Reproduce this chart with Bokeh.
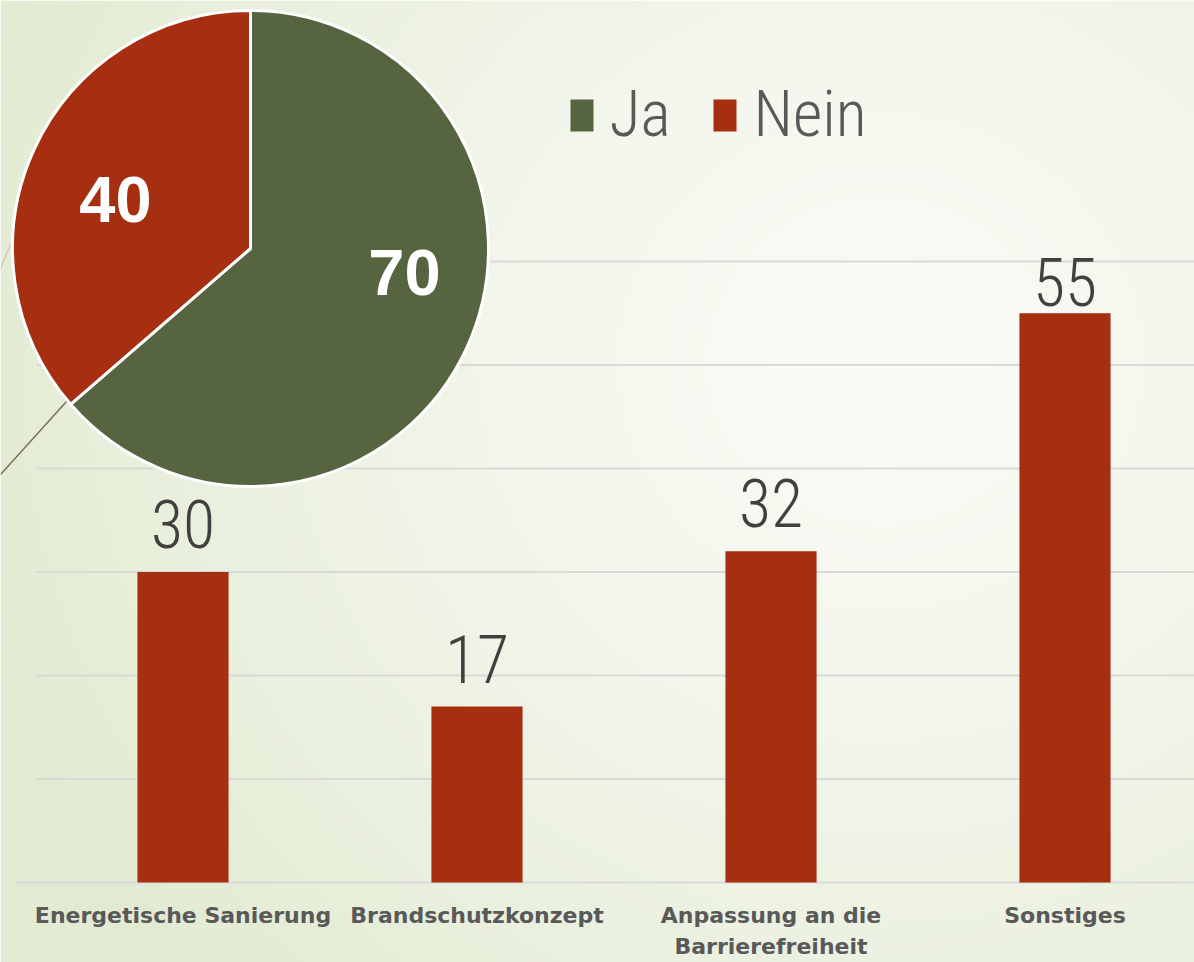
import numpy as np
from bokeh.plotting import figure
from bokeh.models import Range1d
from bokeh.core.properties import value
from bokeh.embed import file_html
from bokeh.resources import INLINE

# ---------------- data ----------------
categories = ["Energetische Sanierung", "Brandschutzkonzept",
              "Anpassung an die\nBarrierefreiheit", "Sonstiges"]
values = [30, 17, 32, 55]
pie_labels = ["Ja", "Nein"]
pie_values = [70, 40]
grid_values = [0, 10, 20, 30, 40, 50, 60]

# ---------------- layout constants (pixels of the reference picture) ----------------
W, H = 1194, 962
OFF = 0
IMG_H = 962
ZERO_Y = 882.0          # picture y of value 0
PX_PER_UNIT = 10.35     # pixels per value unit
X0, STEP = 182.5, 294.0 # centre of first category, category spacing
LABEL_OFFSETS = [-48, -48, -48, -31.5]  # screen offsets of the value labels

BAR_RED = "#a52f10"
JA_GREEN = "#566540"
THIN_FONT = value("Roboto Condensed Light, Roboto Condensed, DejaVu Sans Condensed, Roboto, sans-serif")


def vy(Y):
    return (ZERO_Y - Y) / PX_PER_UNIT


def U(Y):
    # picture y (downwards) -> upward pixel coordinate
    return IMG_H - Y


x_range = Range1d((OFF - X0) / STEP, (OFF + W - X0) / STEP)
y_range = Range1d(vy(OFF + H), vy(OFF))

p = figure(width=W, height=H, x_range=x_range, y_range=y_range,
           output_backend="svg", toolbar_location=None, min_border=0,
           x_axis_location=None, y_axis_location=None,
           outline_line_color=None)
p.xgrid.visible = False
p.ygrid.visible = False
p.extra_x_ranges = {"px": Range1d(OFF, OFF + W)}
p.extra_y_ranges = {"py": Range1d(IMG_H - OFF - H, IMG_H - OFF)}

# ---------------- background gradient ----------------
s = 3
nx, ny = int(np.ceil(W / s)), int(np.ceil(H / s))
xs = OFF + (np.arange(nx) + 0.5) * s
ys_up = (IMG_H - OFF - H) + (np.arange(ny) + 0.5) * s
Xg, Yg = np.meshgrid(xs, IMG_H - ys_up)
t = np.sqrt(((Xg - 880) / 950.0) ** 2 + ((Yg - 360) / 900.0) ** 2)
t = np.clip(t, 0, 1) ** 1.3
c0 = np.array([250, 251, 246])
c1 = np.array([226, 235, 210])
img = np.zeros((ny, nx), dtype=np.uint32)
view = img.view(dtype=np.uint8).reshape((ny, nx, 4))
for k in range(3):
    view[:, :, k] = (c0[k] + (c1[k] - c0[k]) * t).astype(np.uint8)
view[:, :, 3] = 255
p.image_rgba(image=[img], x=OFF, y=IMG_H - OFF - H, dw=W, dh=H,
             x_range_name="px", y_range_name="py")

# ---------------- decorative theme lines ----------------
p.line(x=[0, 66], y=[U(474), U(401)], line_color="#7a705c", line_width=1.5,
       x_range_name="px", y_range_name="py")
p.line(x=[0, 10], y=[U(268), U(244)], line_color="#c5cab3", line_width=1.2,
       x_range_name="px", y_range_name="py")

# ---------------- gridlines ----------------
p.segment(x0=[15 if g == 0 else 36 for g in grid_values],
          x1=[1200] * len(grid_values),
          y0=grid_values, y1=grid_values,
          line_color="#d9d9d9", line_width=2, x_range_name="px")

# ---------------- bars ----------------
idx = list(range(len(categories)))
p.vbar(x=idx, top=values, bottom=0, width=0.31, fill_color=BAR_RED,
       line_color=None)

p.text(x=idx, y=values, text=[str(v) for v in values],
       text_align="center", text_baseline="middle", y_offset=LABEL_OFFSETS,
       text_font=THIN_FONT, text_font_size="66px",
       text_color="#404040")

p.text(x=idx, y=[0] * len(idx), text=categories,
       text_align="center", text_baseline="top", y_offset=20,
       text_font=value("DejaVu Sans"), text_font_style="bold",
       text_font_size="22px", text_color="#595959", text_line_height=1.25)

# ---------------- pie ----------------
total = float(sum(pie_values))
cum = np.cumsum([0] + pie_values) / total * 2 * np.pi
start = [np.pi / 2 - cum[i] for i in range(len(pie_values))]
end = [np.pi / 2 - cum[i + 1] for i in range(len(pie_values))]
p.wedge(x=[250] * 2, y=[U(248)] * 2, radius=238, start_angle=start,
        end_angle=end, direction="clock",
        fill_color=[JA_GREEN, BAR_RED], line_color="white", line_width=3,
        x_range_name="px", y_range_name="py")

p.text(x=[404, 115], y=[U(272), U(199)], text=[str(v) for v in pie_values],
       text_align="center", text_baseline="middle",
       text_font=value("Liberation Sans"), text_font_style="bold",
       text_font_size="65px", text_color="white",
       x_range_name="px", y_range_name="py")

# ---------------- legend ----------------
p.rect(x=[581.5, 724.5], y=[U(115)] * 2, width=23, height=32,
       fill_color=[JA_GREEN, BAR_RED], line_color=None,
       x_range_name="px", y_range_name="py")
p.text(x=[609, 753], y=[U(114)] * 2, text=pie_labels,
       text_align="left", text_baseline="middle",
       text_font=THIN_FONT, text_font_size="64px",
       text_color="#595959", x_range_name="px", y_range_name="py")

open("out.html", "w").write(file_html(p, INLINE))
